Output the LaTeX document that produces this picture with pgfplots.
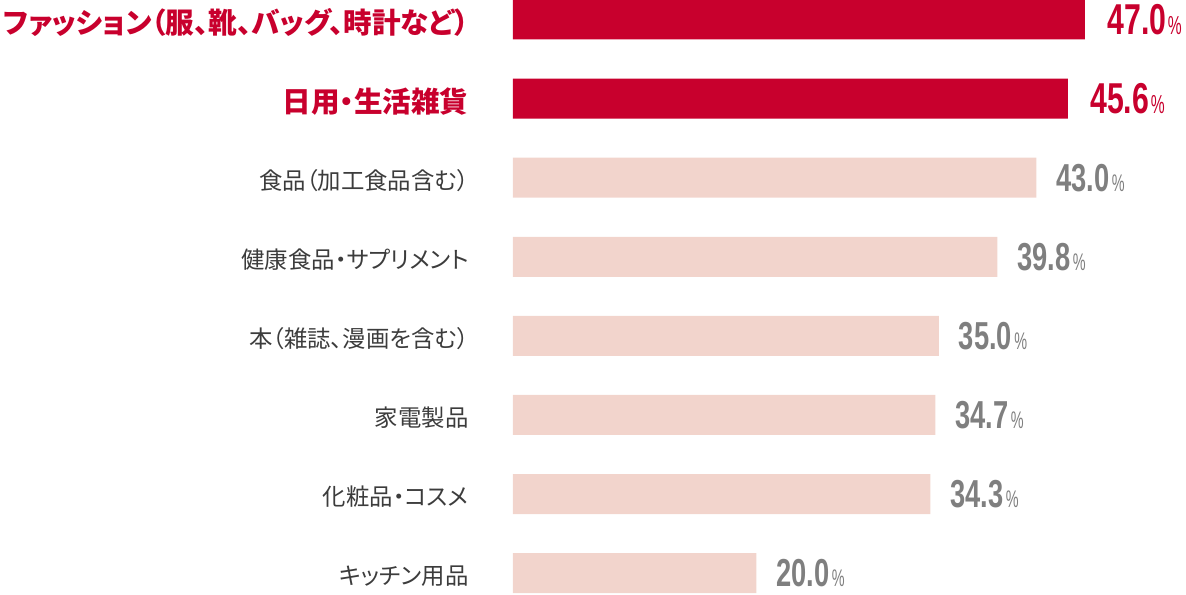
\documentclass[border=0pt]{standalone}
\usepackage{pgfplots}
\pgfplotsset{compat=1.18}
\usepackage{fontspec}
\newfontfamily\jp[RawFeature=+palt]{Noto Sans CJK JP}
\newfontfamily\num[FakeStretch=0.7]{Liberation Sans}
\newfontfamily\pct[FakeStretch=0.6]{Liberation Sans}

\definecolor{cred}{HTML}{C8002D}
\definecolor{cpink}{HTML}{F2D4CC}
\definecolor{cnum}{HTML}{7F7F7F}
\definecolor{clab}{HTML}{3C3C3C}

\tikzset{
  redlab/.style={anchor=east, inner sep=0pt, yshift=-1.5pt, text=cred,
    font={\jp\bfseries\fontsize{14.3}{17}\selectfont}},
  greylab/.style={anchor=east, inner sep=0pt, yshift=-1.5pt, text=clab,
    font={\jp\fontsize{11.7}{14}\selectfont}},
}

\begin{document}
\begin{tikzpicture}
\begin{axis}[
  scale only axis, width=593pt, height=297.5pt,
  xmin=-42.15, xmax=55.30, ymin=-0.2756, ymax=7.2465,
  hide axis, clip=false,
  xbar, bar width=20pt, bar shift=0pt,
  point meta=x,
  /pgf/number format/assume math mode=true,
]
\coordinate (bbsw) at (rel axis cs:0,0);
\coordinate (bbne) at (rel axis cs:1,1);

% top two categories (highlighted)
\addplot[fill=cred, draw=none,
  nodes near coords={{\num\bfseries\fontsize{21.6}{22}\selectfont\pgfmathprintnumber[fixed,fixed zerofill,precision=1]{\pgfplotspointmeta}}\hspace{0.8pt}{\pct\fontsize{13}{13}\selectfont\%}},
  every node near coord/.append style={text=cred, anchor=base west, inner sep=0pt, xshift=11pt, yshift=-7.4pt}]
  coordinates {(47.0,7) (45.6,6)};
% the rest
\addplot[fill=cpink, draw=none,
  nodes near coords={{\num\bfseries\fontsize{19.5}{20}\selectfont\pgfmathprintnumber[fixed,fixed zerofill,precision=1]{\pgfplotspointmeta}}\hspace{1.2pt}{\pct\fontsize{12}{12}\selectfont\%}},
  every node near coord/.append style={text=cnum, anchor=base west, inner sep=0pt, xshift=9.8pt, yshift=-6.9pt}]
  coordinates {(43.0,5) (39.8,4) (35.0,3) (34.7,2) (34.3,1) (20.0,0)};

\node[redlab] at (axis cs:-3.615,7) {ファッション（服、靴、バッグ、時計など）};
\node[redlab] at (axis cs:-3.615,6) {日用・生活雑貨};
\node[greylab] at (axis cs:-3.615,5) {食品（加工食品含む）};
\node[greylab] at (axis cs:-3.615,4) {健康食品・サプリメント};
\node[greylab] at (axis cs:-3.615,3) {本（雑誌、漫画を含む）};
\node[greylab] at (axis cs:-3.615,2) {家電製品};
\node[greylab] at (axis cs:-3.615,1) {化粧品・コスメ};
\node[greylab] at (axis cs:-3.615,0) {キッチン用品};
\end{axis}
\pgfresetboundingbox
\useasboundingbox (bbsw) rectangle (bbne);
\end{tikzpicture}
\end{document}
